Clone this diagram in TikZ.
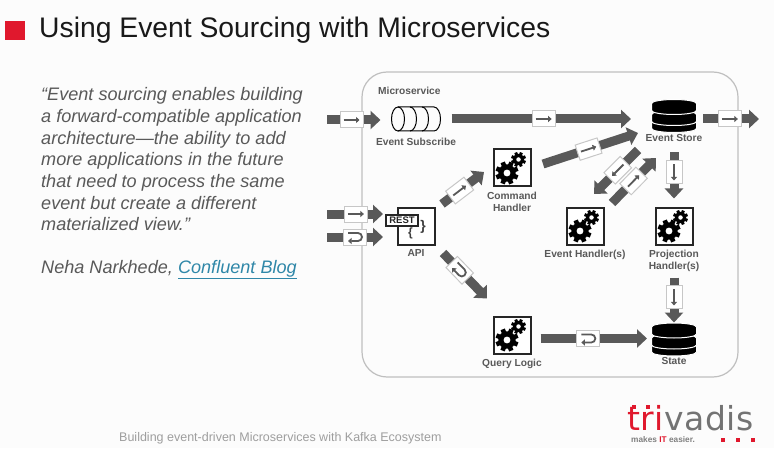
\documentclass[tikz,border=0pt]{standalone}
\usepackage{fontspec}
\setmainfont{Liberation Sans}
\newfontfamily\logofont[LetterSpace=2]{DejaVu Sans}
\usetikzlibrary{arrows.meta,positioning,calc}
\definecolor{ink}{HTML}{595959}
\definecolor{trired}{HTML}{E0182D}
\definecolor{linkblue}{HTML}{2F87A8}

\newcommand{\gearat}[3]{%
  \foreach \a in {0,45,...,315} {\fill[black, shift={(#1,#2)}, rotate=\a+22] (-.2*#3,0) rectangle (.2*#3,#3);}
  \fill[black] (#1,#2) circle ({.76*#3});
  \fill[white] (#1,#2) circle ({.3*#3});
}
\newcommand{\bandat}[1]{%
  \filldraw[fill=black, draw=white, line width=1pt] (-22.5,#1) -- (-22.5,#1-7) arc (180:360:22.5 and 4) -- (22.5,#1) arc (0:180:22.5 and 4) -- cycle;
}

\tikzset{
  flow/.style={draw=ink, line width=9pt, -{Triangle[length=10pt,width=18pt]}},
  msg/.style={sloped, allow upside down},
  envbox/.style={fill=white, draw=black!22, line width=1pt},
  icon/.style={draw=ink, line width=1.8pt, shorten <=0pt, shorten >=0pt, -{Triangle[length=3.5pt,width=6pt]}},
  handler/.style={draw=black!85, line width=2pt, fill=white, minimum size=37pt, outer sep=0pt, inner sep=0pt},
  iconbase/.style={minimum width=46pt, minimum height=31pt, outer sep=0pt, inner sep=0pt},
  tag/.style={font=\fontsize{10.2}{12}\selectfont\bfseries, text=ink, align=center, inner sep=0pt},
  sendmsg/.pic={
    \path[envbox] (-11.5,-8) rectangle (11.5,8);
    \path[icon] (-8,0) -- (8,0);
  },
  replymsg/.pic={
    \path[envbox] (-11.5,-8) rectangle (11.5,8);
    \path[icon] (-7,4) -- (3,4) arc (90:-90:4) -- (-7,-4);
  },
  gears/.pic={
    \gearat{-5}{-5}{11.5}
    \gearat{6.5}{8.5}{7.5}
  },
  database/.pic={
    \bandat{-6.5}
    \bandat{0.5}
    \bandat{11.5}
  },
  queueicon/.pic={
    \draw[black, line width=1pt] (-18,0) ellipse (6.5 and 12);
    \draw[black, line width=1pt] (-18,12) -- (18,12) arc (90:-90:6.5 and 12) -- (-18,-12);
    \draw[black, line width=1pt] (-6,12) arc (90:-90:6.5 and 12);
    \draw[black, line width=1pt] (6,12) arc (90:-90:6.5 and 12);
  }
}

\begin{document}
\begin{tikzpicture}[x=1pt, y=1pt]
\useasboundingbox (0,0) rectangle (774,448);
\fill[white!99!black] (0,0) rectangle (774,448);

% header and quote
\node[fill=trired, minimum size=19.5pt, inner sep=0pt] (bullet) at (14.8,417.5) {};
\node[anchor=west, inner sep=0pt, font=\fontsize{28.3}{32}\selectfont, text=black!90] (heading) at (39,417.5) {Using Event Sourcing with Microservices};
\node[anchor=north west, inner sep=0pt, align=left, text=ink, font=\fontsize{18.1}{21.67}\selectfont\itshape] (quote) at (41,360.5) {“Event sourcing enables building\\a forward-compatible application\\architecture—the ability to add\\more applications in the future\\that need to process the same\\event but create a different\\materialized view.”};
\node[below=29pt of quote.south west, anchor=north west, inner sep=0pt, text=ink, font=\fontsize{18.1}{21.67}\selectfont\itshape] (source) {Neha Narkhede, \textcolor{linkblue}{\underline{Confluent Blog}}};
\node[anchor=west, inner sep=0pt, text=black!38, font=\fontsize{12.5}{14}\selectfont] (footer) at (119,10) {Building event-driven Microservices with Kafka Ecosystem};

% container
\draw[black!25, line width=1.2pt, rounded corners=25pt] (362,71) rectangle (738,376);
\node[tag, anchor=west] (micro) at (378,357) {Microservice};

% components
\node[handler] (api) at (416,222) {};
\node[text=ink!70!black, font=\fontsize{12}{12}\selectfont\bfseries, inner sep=0pt] (lbrace) at ($(api)+(-5.5,-7)$) {\{};
\node[text=ink!70!black, font=\fontsize{14}{14}\selectfont\bfseries, inner sep=0pt] (rbrace) at ($(api)+(7,-1)$) {\}};
\node[draw=black!85, fill=white, line width=1.5pt, outer sep=0pt, inner sep=0pt, minimum width=32pt, minimum height=11pt, font=\fontsize{9.5}{10}\selectfont\bfseries, text=black!85] (rest) at ($(api)+(-14,5.5)$) {REST};
\node[iconbase, minimum width=49pt, minimum height=25pt, above=76pt of api] (queue) {};
\pic at (queue) {queueicon};
\node[handler, above right=21pt and 59pt of api] (command) {};
\pic at (command) {gears};
\node[handler, below right=72pt and 59pt of api] (query) {};
\pic at (query) {gears};
\node[handler, right=132pt of api] (eventh) {};
\pic at (eventh) {gears};
\node[handler, right=52pt of eventh] (projection) {};
\pic at (projection) {gears};
\node[iconbase, above=77pt of projection] (store) {};
\pic at (store) {database};
\node[iconbase, minimum height=30pt, below=79pt of projection] (state) {};
\pic at (state) {database};

% captions
\node[tag, below=6pt of queue] (queuetag) {Event Subscribe};
\node[tag, below=5pt of api] (apitag) {API};
\node[tag, below=5pt of command] (commandtag) {Command\\Handler};
\node[tag, below=5pt of query] (querytag) {Query Logic};
\node[tag, below=5pt of eventh] (eventhtag) {Event Handler(s)};
\node[tag, below=5pt of projection] (projectiontag) {Projection\\Handler(s)};
\node[tag, below=4pt of store] (storetag) {Event Store};
\node[tag, below=3.5pt of state] (statetag) {State};

% free ends
\coordinate (subin) at (327,328);
\coordinate (cmdin) at (327,234);
\coordinate (qryin) at (327,211);
\coordinate (storeout) at (759,329);

% connectors
\draw[flow, shorten >=11pt] (subin) -- pic[msg, pos=.38] {sendmsg} (subin -| queue.west);
\draw[flow, shorten <=11pt, shorten >=20pt] (queue.east) -- pic[msg, pos=.49] {sendmsg} (queue -| store.west);
\draw[flow, shorten <=6pt] (store.east |- storeout) -- pic[msg, pos=.53] {sendmsg} (storeout);
\draw[flow, shorten >=3pt] (cmdin) -- pic[msg, pos=.49] {sendmsg} (cmdin -| rest.west);
\draw[flow, shorten >=3pt] (qryin) -- pic[msg, pos=.475] {replymsg} (qryin -| rest.west);
\draw[flow] ($(api)+(26,22)$) -- pic[msg, pos=.42] {sendmsg} ($(command)+(-28,-4)$);
\draw[flow] ($(api)+(27,-27)$) -- pic[msg, pos=.38] {replymsg} ($(query)+(-25,36.5)$);
\draw[flow] ($(command)+(31,4)$) -- pic[msg, pos=.48] {sendmsg} ($(store)+(-36,-18)$);
\draw[flow] ($(store)+(-36,-35)$) -- pic[msg, pos=.46] {sendmsg} ($(eventh)+(9,32)$);
\draw[flow] ($(eventh)+(27,23)$) -- pic[msg, pos=.49] {sendmsg} ($(store)+(-18,-43)$);
\draw[flow, shorten <=22pt, shorten >=9pt] (store.south) -- pic[msg, pos=.545] {sendmsg} (store.south |- projection.north);
\draw[flow, shorten <=33pt, shorten >=1pt] (projection.south) -- pic[msg, pos=.67] {sendmsg} (projection.south |- state.north);
\draw[flow, shorten <=10pt, shorten >=4pt] (query.east |- state) -- pic[msg, pos=.48] {replymsg} (state.west);

% logo
\node[anchor=base west, inner sep=0pt, font=\fontsize{33}{33}\logofont\selectfont, text=black!55] (logo) at (627,18) {\textcolor{trired}{tri}vadis};
\foreach \x in {634,648} {\fill[trired] (\x-2,39) rectangle (\x+2,43);}
\node[anchor=west, inner sep=0pt, font=\fontsize{8.3}{10}\selectfont\bfseries, text=black!50] (slogan) at (631,8) {makes \textcolor{trired}{IT} easier.};
\foreach \x in {723,738,753} {\fill[trired] (\x-2,6) rectangle (\x+2,10);}
\end{tikzpicture}
\end{document}
